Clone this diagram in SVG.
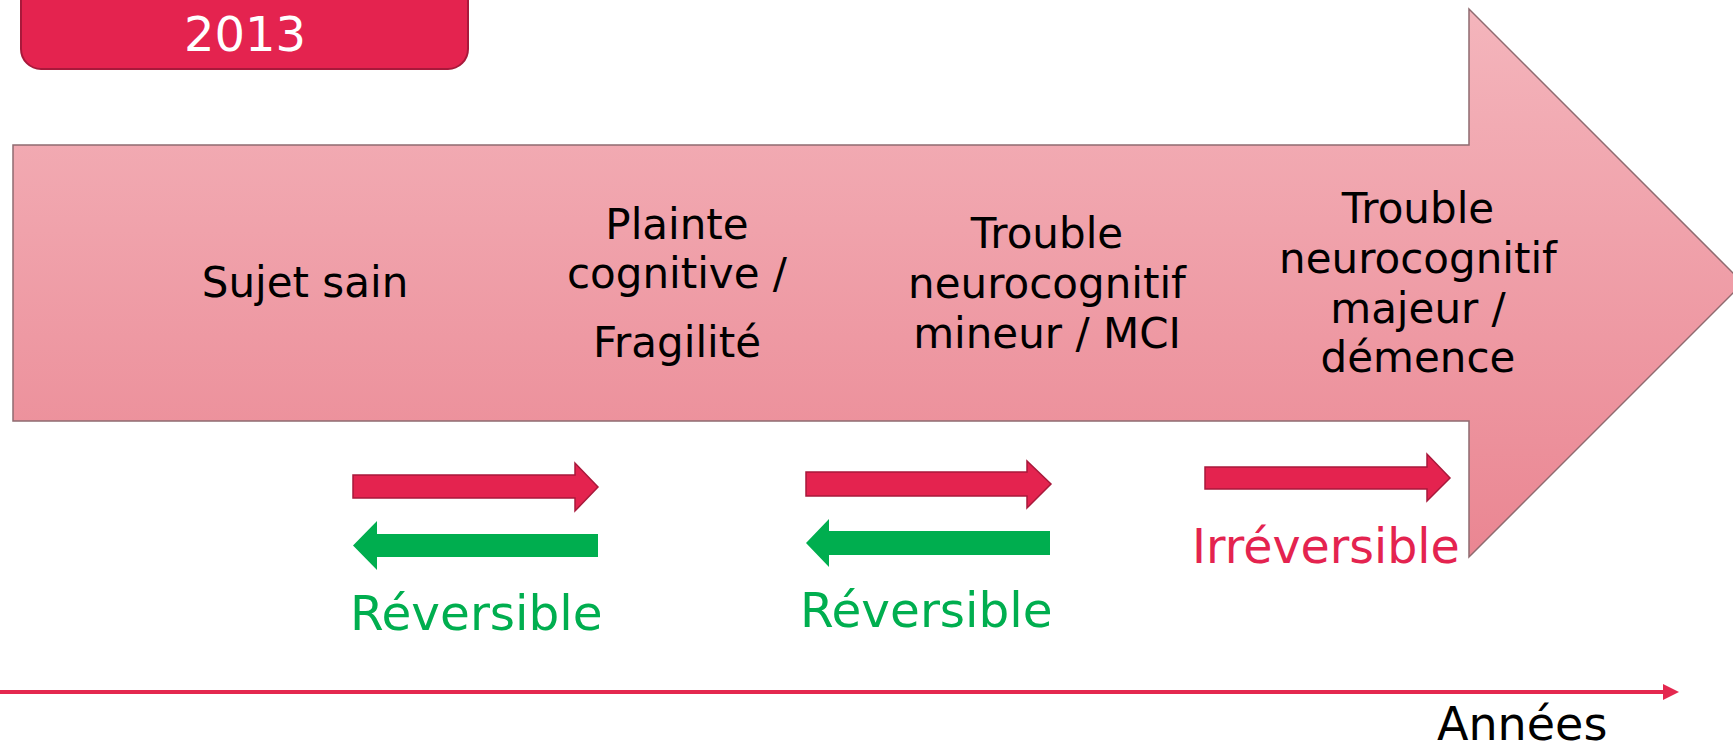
<svg xmlns="http://www.w3.org/2000/svg" width="1733" height="752" viewBox="0 0 1733 752">
  <defs>
    <linearGradient id="bigGrad" x1="0" y1="9" x2="0" y2="558" gradientUnits="userSpaceOnUse">
      <stop offset="0" stop-color="#F4B5BC"/>
      <stop offset="1" stop-color="#EA8692"/>
    </linearGradient>
    <style>
      .lbl { font-family: "DejaVu Sans", "Liberation Sans", sans-serif; font-size: 42px; fill: #000; text-anchor: middle; }
      .rev { font-family: "DejaVu Sans", "Liberation Sans", sans-serif; font-size: 48.5px; fill: #00AE4F; }
      .irr { font-family: "DejaVu Sans", "Liberation Sans", sans-serif; font-size: 47.5px; fill: #E4234F; }
      .redArrow { fill: #E4234F; stroke: #A8193B; stroke-width: 1.5; }
      .greenArrow { fill: #00AE4F; }
    </style>
  </defs>
  <rect width="1733" height="752" fill="#FFFFFF"/>

  <g id="year-box">
    <rect x="21" y="-30" width="447" height="99" rx="20" ry="20" fill="#E4234F" stroke="#A8193B" stroke-width="2"/>
    <text x="245" y="51" font-family="DejaVu Sans, Liberation Sans, sans-serif" font-size="48" fill="#FFFFFF" text-anchor="middle">2013</text>
  </g>

  <g id="big-arrow">
    <polygon points="13,145 1469,145 1469,9 1743,283 1469,557 1469,421 13,421" fill="url(#bigGrad)" stroke="#8F6B70" stroke-width="1.5"/>
  </g>

  <g id="stage-sujet-sain">
    <text class="lbl" x="305" y="297">Sujet sain</text>
  </g>
  <g id="stage-plainte">
    <text class="lbl" x="677" y="239">Plainte</text>
    <text class="lbl" x="677" y="288">cognitive /</text>
    <text class="lbl" x="677" y="357">Fragilité</text>
  </g>
  <g id="stage-mci">
    <text class="lbl" x="1047" y="248">Trouble</text>
    <text class="lbl" x="1047" y="298">neurocognitif</text>
    <text class="lbl" x="1047" y="348">mineur / MCI</text>
  </g>
  <g id="stage-demence">
    <text class="lbl" x="1418" y="223">Trouble</text>
    <text class="lbl" x="1418" y="273">neurocognitif</text>
    <text class="lbl" x="1418" y="323">majeur /</text>
    <text class="lbl" x="1418" y="372">démence</text>
  </g>

  <g id="connectors">
    <polygon class="redArrow" points="353,475 575,475 575,463 598,487 575,511 575,498 353,498"/>
    <polygon class="greenArrow" points="598,534 377,534 377,521 353,545.5 377,570 377,557 598,557"/>
    <polygon class="redArrow" points="806,472 1027,472 1027,461 1051,484 1027,508 1027,496 806,496"/>
    <polygon class="greenArrow" points="1050,531 829,531 829,519 806,543 829,567 829,555 1050,555"/>
    <polygon class="redArrow" points="1205,467 1427,467 1427,454 1450,478 1427,501 1427,489 1205,489"/>
    <line x1="0" y1="692" x2="1665" y2="692" stroke="#E4284F" stroke-width="4"/>
    <polygon points="1663,684 1679,692 1663,700" fill="#E4284F"/>
  </g>

  <g id="label-reversible-1">
    <text class="rev" x="350" y="630">Réversible</text>
  </g>
  <g id="label-reversible-2">
    <text class="rev" x="800" y="627">Réversible</text>
  </g>
  <g id="label-irreversible">
    <text class="irr" x="1192" y="563">Irréversible</text>
  </g>
  <g id="label-annees">
    <text x="1437" y="740" font-family="DejaVu Sans, Liberation Sans, sans-serif" font-size="46" fill="#000">Années</text>
  </g>
</svg>
